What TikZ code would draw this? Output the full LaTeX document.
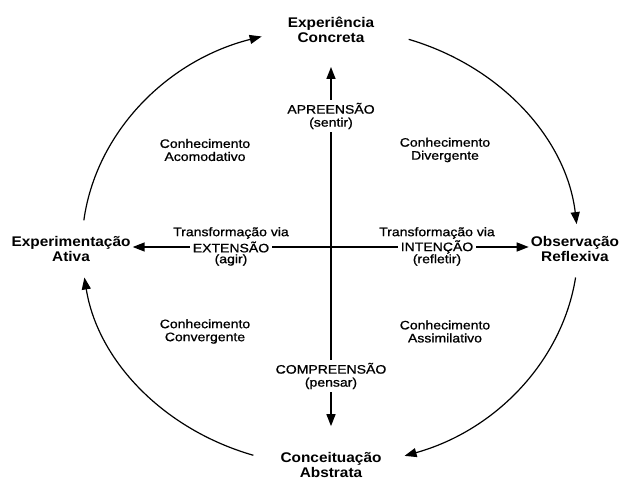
\documentclass[tikz,border=0pt]{standalone}
\usepackage{fontspec}
\setmainfont{Liberation Sans}
\newfontfamily\bigf[FakeStretch=1.1]{Liberation Sans}
\newfontfamily\smallf[FakeStretch=1.14,FakeBold=0.9]{Liberation Sans}
\usetikzlibrary{arrows.meta,calc}
\begin{document}
\begin{tikzpicture}[x=1pt,y=1pt,
  stage/.style={font=\bigf\bfseries\fontsize{14}{15}\selectfont, align=center, inner sep=2pt},
  lbl/.style={font=\smallf\fontsize{12.3}{13}\selectfont, align=center, inner sep=3pt},
  tip/.style={-{Triangle[length=12pt,width=9pt]}},
  axisline/.style={line width=1.4pt},
  cycline/.style={line width=1.2pt}]
\useasboundingbox (0,0) rectangle (619,480);
\coordinate (O) at (330,233);
% stages
\node[stage] (EC) at (331,450) {Experiência\\Concreta};
\node[stage] (EA) at (71,231) {Experimentação\\Ativa};
\node[stage] (OR) at (575,231) {Observação\\Reflexiva};
\node[stage] (CA) at (331,15) {Conceituação\\Abstrata};
% axis labels
\node[lbl] (APP) at (331,364) {APREENSÃO\\(sentir)};
\node[lbl] (COMP) at (331,104) {COMPREENSÃO\\(pensar)};
\node[lbl] (TXa) at (231,247) {Transformação via};
\node[lbl] (TXb) at (231,233) {EXTENSÃO};
\node[lbl] (TXc) at (231,220) {(agir)};
\node[lbl] (TIa) at (437,247) {Transformação via};
\node[lbl] (TIb) at (437,233) {INTENÇÃO};
\node[lbl] (TIc) at (437,220) {(refletir)};
% quadrants
\node[lbl] (Q1) at (205,330) {Conhecimento\\Acomodativo};
\node[lbl] (Q2) at (445,330) {Conhecimento\\Divergente};
\node[lbl] (Q3) at (205,148.5) {Conhecimento\\Convergente};
\node[lbl] (Q4) at (445,148.5) {Conhecimento\\Assimilativo};
% axes
\draw[axisline,tip,shorten >=22pt] (APP) -- (EC);
\draw[axisline] (APP) -- (COMP);
\draw[axisline,tip,shorten >=24pt] (COMP) -- (CA);
\draw[axisline,tip] (TXb.west) -- (TXb.west -| EA.east);
\draw[axisline] (TXb) -- (TIb);
\draw[axisline,tip] (TIb.east) -- (TIb.east -| OR.west);
% cycle
\draw[cycline,tip] (O) ++(173:248 and 219) arc[start angle=173,end angle=106,x radius=248,y radius=219];
\draw[cycline,tip] (O) ++(71.5:248 and 219) arc[start angle=71.5,end angle=6,x radius=248,y radius=219];
\draw[cycline,tip] (O) ++(-8:248 and 219) arc[start angle=-8,end angle=-72.5,x radius=248,y radius=219];
\draw[cycline,tip] (O) ++(-108:248 and 219) arc[start angle=-108,end angle=-172,x radius=248,y radius=219];
\end{tikzpicture}
\end{document}
